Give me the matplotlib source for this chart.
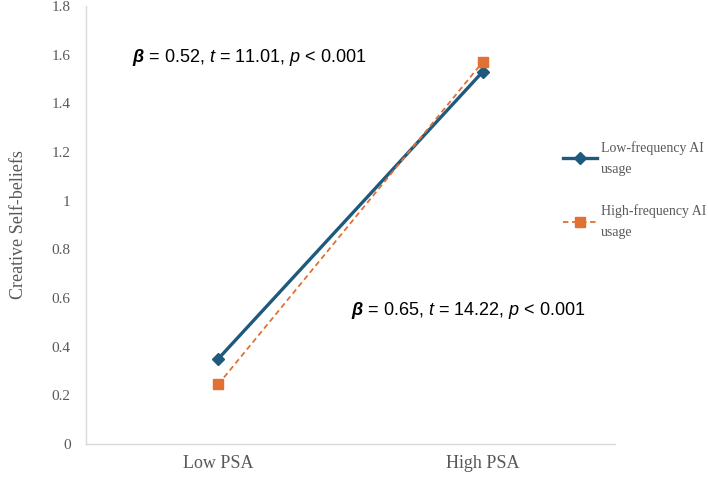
import matplotlib
matplotlib.use("Agg")
import matplotlib.pyplot as plt

# data
conditions = ["Low PSA", "High PSA"]
low_freq = [0.35, 1.53]
high_freq = [0.245, 1.57]
series_names = ["Low-frequency AI\nusage", "High-frequency AI\nusage"]
y_ticks = [0, 0.2, 0.4, 0.6, 0.8, 1.0, 1.2, 1.4, 1.6, 1.8]

plt.rcParams['mathtext.fontset'] = 'custom'
plt.rcParams['mathtext.rm'] = 'Liberation Sans'
plt.rcParams['mathtext.it'] = 'Liberation Sans:italic'
plt.rcParams['mathtext.bf'] = 'Liberation Sans:bold:italic'

grey = '#595959'
azul = '#1f5a7d'
laranja = '#e07034'

fig = plt.figure(figsize=(7.08, 4.78), dpi=100)
ax = fig.add_axes([86 / 708, 1 - 444 / 478, 529 / 708, 438 / 478])

x = range(len(conditions))
ax.plot(x, low_freq, color=azul, lw=2.4, marker='D', ms=6.5, label=series_names[0], zorder=3)
ax.plot(x, high_freq, color=laranja, lw=1.3, ls=(0, (3, 2)), marker='s', ms=7.5,
        label=series_names[1], zorder=4)

ax.set_xlim(-0.5, 1.5)
ax.set_ylim(0, 1.8)
ax.set_yticks(y_ticks)
ax.set_yticklabels([f"{v:g}" for v in y_ticks], family='Liberation Serif', fontsize=11, color=grey)
ax.set_xticks(list(x))
ax.set_xticklabels(conditions, family='Liberation Serif', fontsize=13, color=grey)
ax.tick_params(length=0, pad=8)
ax.tick_params(axis='y', pad=11)

for lado in ['top', 'right']:
    ax.spines[lado].set_visible(False)
for lado in ['left', 'bottom']:
    ax.spines[lado].set_color('#d9d9d9')
    ax.spines[lado].set_linewidth(1.0)

ax.set_ylabel("Creative Self-beliefs", family='Liberation Serif', fontsize=13, color=grey, labelpad=18)

ax.text(0.116, 1.59, r"$\mathbf{\beta}$ = 0.52, $t$ = 11.01, $p$ < 0.001",
        family='Liberation Sans', fontsize=13, ha='center', va='center', color='black')
ax.text(0.944, 0.55, r"$\mathbf{\beta}$ = 0.65, $t$ = 14.22, $p$ < 0.001",
        family='Liberation Sans', fontsize=13, ha='center', va='center', color='black')

leg = fig.legend(loc='upper left', bbox_to_anchor=(553 / 708, 1 - 131 / 478), frameon=False,
                 prop={'family': 'Liberation Serif', 'size': 10}, labelcolor=grey,
                 labelspacing=2.1, handlelength=2.5, handletextpad=0.25, borderpad=0.2)
for t in leg.get_texts():
    t.set_linespacing(1.8)

fig.savefig("out.png", dpi=100)
